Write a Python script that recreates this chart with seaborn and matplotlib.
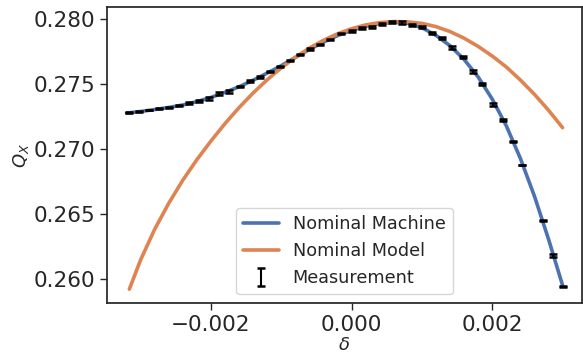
import numpy as np
import pandas as pd
import matplotlib
matplotlib.use('Agg')
import matplotlib.pyplot as plt
import seaborn as sns

# Measured tune vs momentum offset
meas_delta = [-0.003164, -0.003019, -0.002877, -0.002735, -0.002593, -0.002451,
              -0.002308, -0.002166, -0.002024, -0.001882, -0.001740, -0.001588,
              -0.001446, -0.001303, -0.001161, -0.001019, -0.000877, -0.000735,
              -0.000593, -0.000451, -0.000308, -0.000150, 0.000000, 0.000142,
              0.000284, 0.000426, 0.000569, 0.000711, 0.000853, 0.000995,
              0.001137, 0.001280, 0.001421, 0.001578, 0.001720, 0.001860,
              0.002004, 0.002146, 0.002289, 0.002430, 0.002724, 0.002866,
              0.003008]
meas_qx = [0.27280, 0.27288, 0.27301, 0.27311, 0.27322, 0.27334,
           0.27353, 0.27370, 0.27391, 0.27426, 0.27447, 0.27480,
           0.27524, 0.27557, 0.27595, 0.27639, 0.27685, 0.27729,
           0.27770, 0.27808, 0.27844, 0.27888, 0.27905, 0.27928,
           0.27941, 0.27960, 0.27975, 0.27972, 0.27956, 0.27936,
           0.27895, 0.27852, 0.27783, 0.27711, 0.27595, 0.27498,
           0.27345, 0.27224, 0.27058, 0.26879, 0.26451, 0.26187,
           0.25944]
meas_err = [0.00003, 0.00003, 0.00003, 0.00003, 0.00004, 0.00005,
            0.00008, 0.00010, 0.00012, 0.00012, 0.00012, 0.00005,
            0.00010, 0.00008, 0.00005, 0.00004, 0.00004, 0.00004,
            0.00004, 0.00004, 0.00004, 0.00004, 0.00008, 0.00008,
            0.00008, 0.00008, 0.00008, 0.00010, 0.00008, 0.00008,
            0.00008, 0.00008, 0.00012, 0.00008, 0.00012, 0.00008,
            0.00012, 0.00010, 0.00005, 0.00003, 0.00005, 0.00012,
            0.00004]

# Nominal machine curve
grid_delta = [-0.0032, -0.0030, -0.0028, -0.0026, -0.0024, -0.0022, -0.0020,
              -0.0018, -0.0016, -0.0014, -0.0012, -0.0010, -0.0008, -0.0006,
              -0.0004, -0.0002, 0.0000, 0.0002, 0.0004, 0.0006, 0.0008,
              0.0010, 0.0012, 0.0014, 0.0016, 0.0018, 0.0020, 0.0022,
              0.0024, 0.0026, 0.0028, 0.0030]
machine_qx = [0.27278, 0.27290, 0.27305, 0.27321, 0.27340, 0.27366, 0.27398,
              0.27437, 0.27480, 0.27530, 0.27585, 0.27642, 0.27705, 0.27767,
              0.27823, 0.27873, 0.27913, 0.27945, 0.27966, 0.27975, 0.27968,
              0.27934, 0.27875, 0.27795, 0.27690, 0.27555, 0.27385, 0.27180,
              0.26930, 0.26640, 0.26310, 0.25955]

# Nominal model curve
model_delta = [-0.00316, -0.0030, -0.0028, -0.0026, -0.0024, -0.0022, -0.0020,
               -0.0018, -0.0016, -0.0014, -0.0012, -0.0010, -0.0008, -0.0006,
               -0.0004, -0.0002, 0.0000, 0.0002, 0.0004, 0.0006, 0.0008,
               0.0010, 0.0012, 0.0014, 0.0016, 0.0018, 0.0020, 0.0022,
               0.0024, 0.0026, 0.0028, 0.0030]
model_qx = [0.25925, 0.26150, 0.26385, 0.26585, 0.26762, 0.26920, 0.27063,
            0.27197, 0.27320, 0.27432, 0.27534, 0.27625, 0.27706, 0.27777,
            0.27837, 0.27887, 0.27926, 0.27955, 0.27973, 0.27981, 0.27978,
            0.27967, 0.27942, 0.27904, 0.27853, 0.27790, 0.27716, 0.27632,
            0.27532, 0.27422, 0.27300, 0.27166]

sns.set_theme(style='ticks')
pal = sns.color_palette('deep')

fig, ax = plt.subplots(figsize=(5.83, 3.55), dpi=100)
fig.subplots_adjust(left=0.1835, right=0.998, bottom=0.1465, top=0.980)

sns.lineplot(x=grid_delta, y=machine_qx, ax=ax, color=pal[0], lw=2.6,
             label='Nominal Machine', sort=False)
sns.lineplot(x=model_delta, y=model_qx, ax=ax, color=pal[1], lw=2.6,
             label='Nominal Model', sort=False)
ax.errorbar(meas_delta, meas_qx, yerr=meas_err, fmt='none', ecolor='black',
            elinewidth=1.5, capsize=3, capthick=1.8, label='Measurement',
            zorder=5)

ax.set_xlim(-0.003478, 0.003274)
ax.set_ylim(0.25819, 0.28092)
ax.set_xticks([-0.002, 0.0, 0.002])
ax.set_yticks([0.260, 0.265, 0.270, 0.275, 0.280])
ax.set_xticklabels(['\u22120.002', '0.000', '0.002'])
ax.set_yticklabels(['0.260', '0.265', '0.270', '0.275', '0.280'])
ax.tick_params(labelsize=15.5, length=5, width=1)
ax.set_xlabel(r'$\delta$', fontsize=13, labelpad=1)
ax.set_ylabel(r'$Q_X$', fontsize=13, labelpad=2)

ax.legend(loc='lower center', fontsize=12.7, frameon=True)

fig.savefig('out.png', dpi=100)
